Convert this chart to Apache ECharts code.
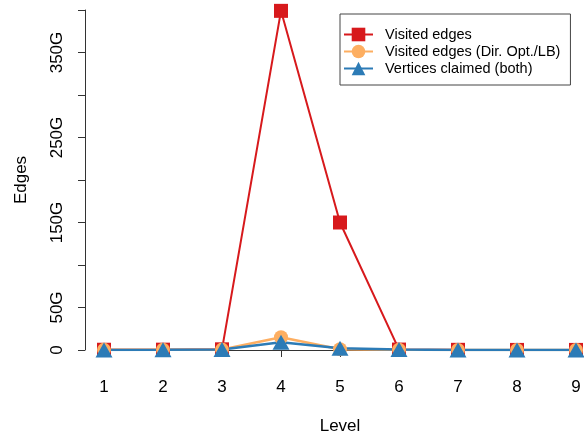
<!DOCTYPE html>
<html>
<head>
<meta charset="utf-8">
<script src="https://cdn.jsdelivr.net/npm/echarts@6/dist/echarts.min.js"></script>
<style>html,body{margin:0;padding:0;background:#fff}#c{width:584px;height:434px}</style>
</head>
<body>
<div id="c"></div>
<script>
var levels = [1, 2, 3, 4, 5, 6, 7, 8, 9];
var visitedEdges = [0.3, 0.4, 0.8, 399, 150, 0.5, 0.2, 0.1, 0.1];        // G
var visitedDirOpt = [0.2, 0.3, 0.5, 15, 1, 0.3, 0.1, 0.1, 0.1];           // G
var verticesClaimed = [0.1, 0.2, 0.6, 9, 2, 0.5, 0.1, 0.05, 0.02];       // G
var yTickLabels = {0: '0', 50: '50G', 150: '150G', 250: '250G', 350: '350G'};
var seriesNames = ['Visited edges', 'Visited edges (Dir. Opt./LB)', 'Vertices claimed (both)'];

function pts(arr) { return levels.map(function (l, i) { return [l, arr[i] * 1e9]; }); }
var font = 'Liberation Sans, Arial, Helvetica, sans-serif';
var chart = echarts.init(document.getElementById('c'));
chart.setOption({
  animation: false,
  backgroundColor: '#fff',
  grid: {left: 104, right: 8, top: 10, bottom: 84, containLabel: false, outerBoundsMode: 'none'},
  legend: {
    orient: 'vertical', left: 340, top: 14,
    padding: [13, 10, 9, 3],
    borderColor: '#444', borderWidth: 1,
    itemWidth: 29, itemHeight: 17, itemGap: 2,
    textStyle: {fontFamily: font, fontSize: 14.5, lineHeight: 15, color: '#000', padding: [0, 0, 0, 7]},
    data: seriesNames
  },
  xAxis: {
    type: 'value', min: 1, max: 9, interval: 1, offset: 15,
    name: 'Level', nameLocation: 'middle', nameGap: 53,
    nameTextStyle: {fontFamily: font, fontSize: 17, color: '#000'},
    axisLine: {show: true, lineStyle: {color: '#333'}},
    axisTick: {show: true, length: 7, lineStyle: {color: '#333'}},
    axisLabel: {fontFamily: font, fontSize: 17, color: '#000', margin: 14},
    splitLine: {show: false}
  },
  yAxis: {
    type: 'value', min: 0, max: 400e9, interval: 50e9, offset: 19,
    name: 'Edges', nameLocation: 'middle', nameGap: 55, nameRotate: 90,
    nameTextStyle: {fontFamily: font, fontSize: 17, color: '#000'},
    axisLine: {show: true, lineStyle: {color: '#333'}},
    axisTick: {show: true, length: 7, lineStyle: {color: '#333'}},
    axisLabel: {
      fontFamily: font, fontSize: 17, color: '#000', rotate: 90, margin: 19,
      formatter: function (v) { var g = Math.round(v / 1e9); return yTickLabels[g] !== undefined ? yTickLabels[g] : ''; }
    },
    splitLine: {show: false}
  },
  series: [
    {name: seriesNames[0], type: 'line', data: pts(visitedEdges), symbol: 'rect', symbolSize: 14,
     itemStyle: {color: '#d7191c'}, lineStyle: {color: '#d7191c', width: 2}},
    {name: seriesNames[1], type: 'line', data: pts(visitedDirOpt), symbol: 'circle', symbolSize: 14,
     itemStyle: {color: '#fdae61'}, lineStyle: {color: '#fdae61', width: 2.5}},
    {name: seriesNames[2], type: 'line', data: pts(verticesClaimed), symbol: 'triangle', symbolSize: [17, 15],
     itemStyle: {color: '#2c7bb6'}, lineStyle: {color: '#2c7bb6', width: 2.5}}
  ]
});
</script>
</body>
</html>
